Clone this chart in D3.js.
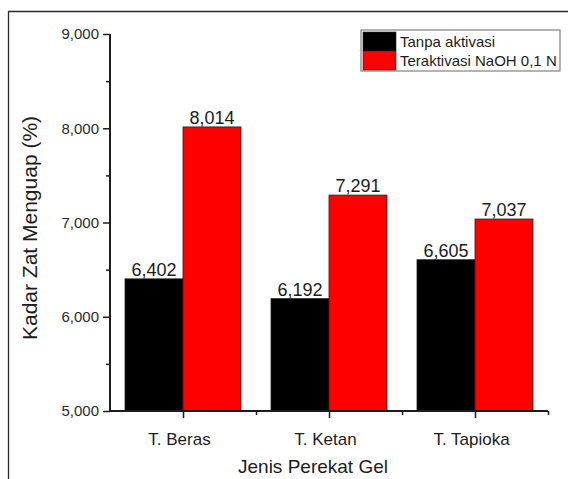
<!DOCTYPE html>
<html>
<head>
<meta charset="utf-8">
<script src="https://cdn.jsdelivr.net/npm/d3@7"></script>
<style>
  html, body { margin: 0; padding: 0; background: #fff; }
  svg { display: block; font-family: "Liberation Sans", Arial, sans-serif; }
</style>
</head>
<body>
<svg id="chart" width="568" height="479"></svg>
<script>
// Jenis perekat (x categories)
const categories = ["T. Beras", "T. Ketan", "T. Tapioka"];
// Kadar zat menguap (%) per series
const seriesNames = ["Tanpa aktivasi", "Teraktivasi NaOH 0,1 N"];
const tanpaAktivasi = [6.402, 6.192, 6.605];
const teraktivasi = [8.014, 7.291, 7.037];
const seriesColors = ["#000000", "#ff0000"];
const yTicks = [5, 6, 7, 8, 9];
const yMinorTicks = [5.5, 6.5, 7.5, 8.5];

const series = [tanpaAktivasi, teraktivasi];
const fmt = v => d3.format(",.3f")(v).replace(".", ",");

const svg = d3.select("#chart");
const ink = "#1c1c1c";

// outer frame (top and left edges)
svg.append("path")
  .attr("d", "M8.5,479 L8.5,11.5 L568,11.5")
  .attr("fill", "none").attr("stroke", "#2a2a2a").attr("stroke-width", 1.3);

const x = d3.scaleLinear().domain([0.5, 3.5]).range([110, 548]);
const y = d3.scaleLinear().domain([5, 9]).range([411, 34]);
const barW = 58;

// bars
const g = svg.append("g");
series.forEach((vals, si) => {
  g.selectAll(null).data(vals).enter().append("rect")
    .attr("x", (d, i) => x(i + 1) + (si === 0 ? -barW : 0))
    .attr("y", d => y(d))
    .attr("width", barW)
    .attr("height", d => y(5) - y(d))
    .attr("fill", seriesColors[si])
    .attr("stroke", "#222").attr("stroke-width", 0.8);

  g.selectAll(null).data(vals).enter().append("text")
    .attr("x", (d, i) => x(i + 1) + (si === 0 ? -barW / 2 : barW / 2))
    .attr("y", d => y(d) - 3)
    .attr("text-anchor", "middle")
    .attr("font-size", 18)
    .attr("fill", ink)
    .text(d => fmt(d));
});

// y axis
const yAxis = svg.append("g").attr("transform", "translate(110,0)");
yAxis.call(d3.axisLeft(y).tickValues(yTicks).tickSize(7).tickPadding(4).tickFormat(fmt));
yAxis.append("g").call(d3.axisLeft(y).tickValues(yMinorTicks).tickSize(4).tickFormat(""));
yAxis.selectAll(".domain").attr("stroke", ink).attr("stroke-width", 1.8).attr("d", `M0,${y(9)}V${y(5)}`);
yAxis.selectAll(".tick line").attr("stroke", ink).attr("stroke-width", 1.5);
yAxis.selectAll(".tick text").attr("font-size", 15).attr("fill", "#2a2a2a")
  .attr("font-family", "Liberation Sans, Arial, sans-serif");

// x axis
const xAxis = svg.append("g").attr("transform", `translate(0,${y(5)})`);
xAxis.call(d3.axisBottom(x).tickValues([1, 2, 3]).tickSize(7).tickPadding(15)
  .tickFormat((d, i) => categories[i]));
xAxis.append("g").call(d3.axisBottom(x).tickValues([1.5, 2.5, 3.5]).tickSize(4).tickFormat(""));
xAxis.selectAll(".domain").attr("stroke", ink).attr("stroke-width", 1.8).attr("d", `M${x(0.5)},0H${x(3.5)}`);
xAxis.selectAll(".tick line").attr("stroke", ink).attr("stroke-width", 1.5);
xAxis.selectAll(".tick text").attr("font-size", 17).attr("fill", ink).attr("dx", -4)
  .attr("font-family", "Liberation Sans, Arial, sans-serif");

// axis titles
svg.append("text")
  .attr("x", 313).attr("y", 473)
  .attr("text-anchor", "middle").attr("font-size", 19).attr("fill", ink)
  .text("Jenis Perekat Gel");
svg.append("text")
  .attr("transform", "translate(37,228) rotate(-90)")
  .attr("text-anchor", "middle").attr("font-size", 21).attr("fill", ink)
  .text("Kadar Zat Menguap (%)");

// legend
const lg = svg.append("g").attr("transform", "translate(361,30)");
lg.append("rect").attr("x", 0).attr("y", 0).attr("width", 199).attr("height", 41)
  .attr("fill", "#fff").attr("stroke", "#8a8a8a").attr("stroke-width", 1.3);
seriesNames.forEach((name, i) => {
  lg.append("rect").attr("x", 2).attr("y", 2 + i * 19).attr("width", 33).attr("height", 19)
    .attr("fill", seriesColors[i]).attr("stroke", "#222").attr("stroke-width", 0.6);
  lg.append("text").attr("x", 39).attr("y", 17 + i * 19)
    .attr("font-size", 15).attr("fill", ink).text(name);
});
</script>
</body>
</html>
